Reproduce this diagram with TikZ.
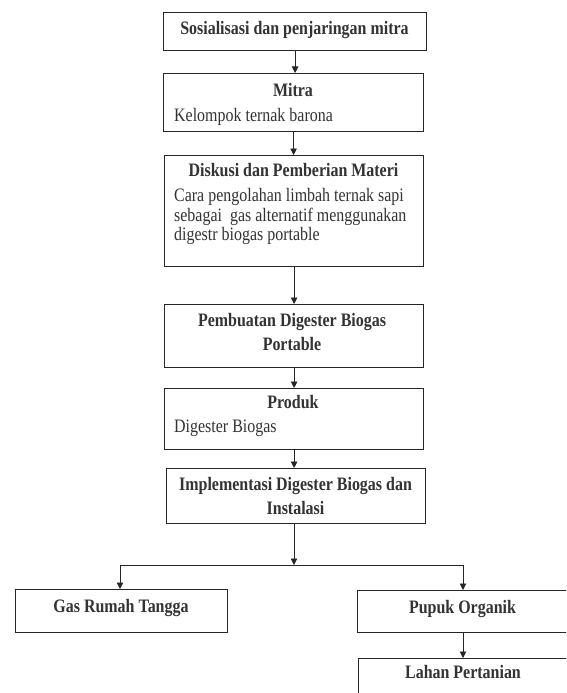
\documentclass[tikz,border=0pt]{standalone}
\usepackage{fontspec}
\setmainfont{Liberation Serif}[FakeStretch=0.84]
\usetikzlibrary{arrows.meta}
\tikzset{
  box/.style={draw=black!85, line width=1.2pt, inner sep=0pt, anchor=north west},
  tb/.style={font=\fontsize{19}{20}\selectfont\bfseries, inner sep=0pt, anchor=base, text=black!80},
  tr/.style={font=\fontsize{19}{20}\selectfont, inner sep=0pt, anchor=base west, text=black!80},
  conn/.style={draw=black!85, line width=0.9pt},
  arr/.style={conn, -{Triangle[width=6.5pt,length=6.5pt]}},
}
\begin{document}
\begin{tikzpicture}[x=1pt,y=-1pt]
\useasboundingbox (0,0) rectangle (566,693);
\clip (0,0) rectangle (566,693);
\fill[white] (0,0) rectangle (566,693);

% boxes
\node[box, minimum width=263pt, minimum height=38pt] (b1) at (163,12) {};
\node[box, minimum width=260pt, minimum height=58pt] (b2) at (163,73) {};
\node[box, minimum width=259pt, minimum height=111pt] (b3) at (164,155) {};
\node[box, minimum width=259pt, minimum height=63pt] (b4) at (164,304) {};
\node[box, minimum width=259pt, minimum height=61pt] (b5) at (164,388) {};
\node[box, minimum width=259pt, minimum height=55pt] (b6) at (166,468) {};
\node[box, minimum width=212pt, minimum height=43pt] (gas) at (15,589) {};
\node[box, minimum width=212pt, minimum height=42pt] (pupuk) at (357,590) {};
\node[box, minimum width=212pt, minimum height=50pt] (lahan) at (358,658) {};

% texts
\node[tb] (t1) at (294.5,35) {Sosialisasi dan penjaringan mitra};
\node[tb] (t2) at (293,96) {Mitra};
\node[tr] (t2a) at (174,121) {Kelompok ternak barona};
\node[tb] (t3) at (293.5,176) {Diskusi dan Pemberian Materi};
\node[tr] (t3a) at (174,201) {Cara pengolahan limbah ternak sapi};
\node[tr] (t3b) at (174,221) {sebagai\ \ gas alternatif menggunakan};
\node[tr] (t3c) at (174,240) {digestr biogas portable};
\node[tb] (t4a) at (292,326) {Pembuatan Digester Biogas};
\node[tb] (t4b) at (292,350) {Portable};
\node[tb] (t5) at (293,408) {Produk};
\node[tr] (t5a) at (174,432) {Digester Biogas};
\node[tb] (t6a) at (295.5,490) {Implementasi Digester Biogas dan};
\node[tb] (t6b) at (295.5,514) {Instalasi};
\node[tb] (tg) at (121,612) {Gas Rumah Tangga};
\node[tb] (tp) at (462.5,613) {Pupuk Organik};
\node[tb] (tl) at (463,678) {Lahan Pertanian};

% connectors
\coordinate (j) at (294,565);
\coordinate (jl) at (120,565);
\coordinate (jr) at (463,565);
\draw[arr] (b1.south) -- (b1.south |- b2.north);
\draw[arr] (b2.south) -- (b2.south |- b3.north);
\draw[arr] (b3.south) -- (b3.south |- b4.north);
\draw[arr] (b4.south) -- (b4.south |- b5.north);
\draw[arr] (b5.south) -- (b5.south |- b6.north);
\draw[arr] (j |- b6.south) -- (j);
\draw[conn] (jl) -- (jr);
\draw[arr] (jl) -- (jl |- gas.north);
\draw[arr] (jr) -- (jr |- pupuk.north);
\draw[arr] (jr |- pupuk.south) -- (jr |- lahan.north);
\end{tikzpicture}
\end{document}
